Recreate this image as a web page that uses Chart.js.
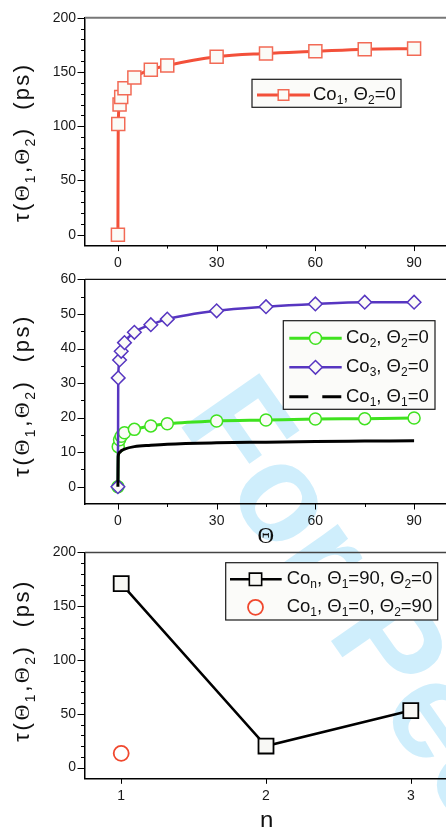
<!DOCTYPE html>
<html><head><meta charset="utf-8">
<title>tau vs Theta</title>
<script src="https://cdn.jsdelivr.net/npm/chart.js@4.4.1/dist/chart.umd.min.js"></script>
<style>
html,body{margin:0;padding:0;background:#fff;}
body{width:446px;height:827px;overflow:hidden;position:relative;}
#wm{position:absolute;left:271.7px;top:353px;transform-origin:0 0;transform:rotate(55deg);font:bold 138px "Liberation Sans",Arial,sans-serif;line-height:138px;color:#cfeefc;white-space:nowrap;}
canvas{position:absolute;left:0;}
</style></head><body>
<div id="wm">For Peer Review</div>
<canvas id="c1" width="460" height="275" style="top:0px"></canvas>
<canvas id="c2" width="460" height="290" style="top:262px"></canvas>
<canvas id="c3" width="460" height="292" style="top:535px"></canvas>
<script>
// ---------- data ----------
const thetaDeg      = [0, 0.1, 0.5, 1, 2, 5, 10, 15, 30, 45, 60, 75, 90];
const tauCo1Th2     = [0, 102, 120, 127, 135, 145, 152, 156, 164, 167, 169, 171, 171.5];
const tauCo2Th2     = [0, 11.6, 13.6, 14.6, 15.6, 16.6, 17.6, 18.2, 19.0, 19.3, 19.6, 19.7, 19.9];
const tauCo3Th2     = [0, 31.5, 36.7, 39.2, 41.7, 44.7, 46.9, 48.5, 50.9, 52.1, 52.9, 53.4, 53.4];
const tauCo1Th1     = [0, 8.8, 9.9, 10.4, 10.9, 11.6, 12.0, 12.3, 12.7, 12.9, 13.1, 13.2, 13.3];
const chainN        = [1, 2, 3];
const tauConTh90    = [171, 20, 53];
const co1N          = [1];
const tauCo1Th2_90  = [13.2];

// tick labels
const thetaTickLabels = [0, 30, 60, 90];
const tauTickLabelsA  = [0, 50, 100, 150, 200];
const tauTickLabelsB  = [0, 10, 20, 30, 40, 50, 60];
const nTickLabels     = [1, 2, 3];

// legend / axis texts
const yTitle = 'τ(Θ_{1},Θ_{2})  (ps)';
const legend1 = ['Co_{1}, Θ_{2}=0'];
const legend2 = ['Co_{2}, Θ_{2}=0', 'Co_{3}, Θ_{2}=0', 'Co_{1}, Θ_{1}=0'];
const legend3 = ['Co_{n}, Θ_{1}=90, Θ_{2}=0', 'Co_{1}, Θ_{1}=0, Θ_{2}=90'];

// ---------- helpers ----------
const FONT = '"Liberation Sans", Arial, sans-serif';
const SERIF = '"Liberation Serif", "Times New Roman", serif';
Chart.defaults.font.family = FONT;

function pts(xs, ys){ return xs.map((x,i)=>({x:x, y:ys[i]})); }
function withMinor(major, sub){
  const out = [];
  for (let i=0;i<major.length;i++){
    out.push(major[i]);
    if (i<major.length-1){
      const d = (major[i+1]-major[i])/sub;
      for (let k=1;k<sub;k++) out.push(major[i]+k*d);
    }
  }
  return out;
}
function parseRich(str){
  const out=[]; const re=/_\{([^}]*)\}/g; let last=0,m;
  while((m=re.exec(str))){ if(m.index>last) out.push({t:str.slice(last,m.index),sub:false}); out.push({t:m[1],sub:true}); last=re.lastIndex; }
  if(last<str.length) out.push({t:str.slice(last),sub:false});
  return out;
}
function toChars(segs, thetaSerif){
  const out=[];
  segs.forEach(s=>{ for(const ch of s.t){ out.push({t:ch,sub:s.sub,serif: thetaSerif && ch==='Θ'}); } });
  return out;
}
function setF(ctx,c,f){ ctx.font = (c.sub?f.sub:f.base)+'px '+(c.serif?SERIF:FONT); }
function charsWidth(ctx, chars, f){
  let w=0; chars.forEach(c=>{ setF(ctx,c,f); w+=ctx.measureText(c.t).width; }); return w;
}
function drawChars(ctx, chars, x, y, f, sp){
  let cx=x;
  chars.forEach(c=>{ setF(ctx,c,f); ctx.fillText(c.t, cx, y+(c.sub?f.dy:0)); cx+=ctx.measureText(c.t).width+sp; });
}
function drawMarker(ctx, m, x, y){
  ctx.save();
  ctx.beginPath();
  const r=m.radius;
  if(m.style==='rect'){ const s=Math.SQRT1_2*r; ctx.rect(x-s,y-s,2*s,2*s); }
  else if(m.style==='rectRot'){ ctx.moveTo(x-r,y); ctx.lineTo(x,y-r); ctx.lineTo(x+r,y); ctx.lineTo(x,y+r); ctx.closePath(); }
  else { ctx.arc(x,y,r,0,Math.PI*2); }
  ctx.fillStyle=m.fill; ctx.fill();
  ctx.lineWidth=m.bw; ctx.strokeStyle=m.border; ctx.stroke();
  ctx.restore();
}

function makeDeco(cfg){
  return {
    id:'deco',
    afterDraw(chart){
      const ctx=chart.ctx, a=chart.chartArea, xs=chart.scales.x, ys=chart.scales.y;
      ctx.save();
      ctx.strokeStyle=cfg.frameColor; ctx.lineWidth=cfg.frameWidth;
      ctx.beginPath(); ctx.moveTo(a.left, a.top); ctx.lineTo(a.right+20, a.top); ctx.stroke();
      ctx.strokeStyle='#000'; ctx.lineWidth=1;
      ys.ticks.forEach(t=>{
        if(t.value<=ys.min+1e-9) return;
        const p=Math.round(ys.getPixelForValue(t.value))+0.5;
        const len=cfg.yMajor.includes(t.value)?7.5:4;
        ctx.beginPath(); ctx.moveTo(a.left-len,p); ctx.lineTo(a.left,p); ctx.stroke();
      });
      xs.ticks.forEach(t=>{
        const p=Math.round(xs.getPixelForValue(t.value))+0.5;
        const len=cfg.xMajor.includes(t.value)?5.5:3;
        ctx.beginPath(); ctx.moveTo(p,a.bottom); ctx.lineTo(p,a.bottom+len); ctx.stroke();
      });
      const tf={base:22,sub:14,dy:6};
      const chars=toChars(parseRich(yTitle), true);
      const w=charsWidth(ctx,chars,tf);
      const sp=(cfg.yTitle.len-w)/(chars.length-1);
      ctx.save();
      ctx.translate(cfg.yTitle.x, cfg.yTitle.cy+cfg.yTitle.len/2);
      ctx.rotate(-Math.PI/2);
      ctx.fillStyle='#111'; ctx.textBaseline='alphabetic'; ctx.textAlign='left';
      drawChars(ctx,chars,0,0,tf,sp);
      ctx.restore();
      if(cfg.xTitle){
        ctx.fillStyle='#111'; ctx.textAlign='center'; ctx.textBaseline='middle';
        ctx.font=cfg.xTitle.size+'px '+(cfg.xTitle.serif?SERIF:FONT);
        ctx.fillText(cfg.xTitle.text, cfg.xTitle.x, cfg.xTitle.y);
      }
      const L=cfg.legend;
      ctx.fillStyle='#fbfbf9'; ctx.fillRect(L.box[0],L.box[1],L.box[2],L.box[3]);
      ctx.strokeStyle='#1a1a1a'; ctx.lineWidth=1.2; ctx.strokeRect(L.box[0],L.box[1],L.box[2],L.box[3]);
      const lf={base:18.5,sub:12,dy:5.5};
      L.rows.forEach(r=>{
        if(r.line){
          ctx.save(); ctx.strokeStyle=r.line.color; ctx.lineWidth=r.line.width; ctx.setLineDash(r.line.dash||[]);
          ctx.beginPath(); ctx.moveTo(L.lx0,r.y); ctx.lineTo(L.lx1,r.y); ctx.stroke(); ctx.restore();
        }
        if(r.marker) drawMarker(ctx,r.marker,L.mx,r.y);
        ctx.fillStyle='#111'; ctx.textAlign='left'; ctx.textBaseline='middle';
        drawChars(ctx,toChars(parseRich(r.text),false),L.tx,r.y,lf,0);
      });
      ctx.restore();
    }
  };
}

function axisX(min,max,ticksArr,labels,height){
  return {
    type:'linear', bounds:'data', min:min, max:max,
    afterBuildTicks:s=>{ s.ticks=ticksArr.map(v=>({value:v})); },
    afterFit:s=>{ s.height=height; },
    grid:{display:false, drawTicks:false},
    border:{display:true, color:'#000', width:1.5},
    ticks:{autoSkip:false, maxRotation:0, padding:9, color:'#1a1a1a', font:{size:14},
      callback:v=>labels.includes(v)?String(v):''}
  };
}
function axisY(min,max,ticksArr,labels){
  return {
    type:'linear', bounds:'data', min:min, max:max,
    afterBuildTicks:s=>{ s.ticks=ticksArr.map(v=>({value:v})); },
    afterFit:s=>{ s.width=85; },
    grid:{display:false, drawTicks:false},
    border:{display:true, color:'#000', width:1.5},
    ticks:{autoSkip:false, padding:9, color:'#1a1a1a', font:{size:14},
      callback:v=>labels.includes(v)?String(v):''}
  };
}
const baseOpts = {responsive:false, animation:false, events:[], plugins:{legend:{display:false}, tooltip:{enabled:false}}};

// ---------- panel 1 ----------
const thetaTicks = withMinor(thetaTickLabels, 2);
new Chart(document.getElementById('c1'), {
  type:'line',
  data:{datasets:[{
    data:pts(thetaDeg,tauCo1Th2), borderColor:'#f3503a', borderWidth:3,
    pointStyle:'rect', pointRadius:9.2, pointBorderColor:'#f26a55', pointBackgroundColor:'#fbfbf7', pointBorderWidth:1.5,
    cubicInterpolationMode:'monotone', fill:false
  }]},
  options:Object.assign({}, baseOpts, {
    layout:{padding:{top:17.7,right:13,left:0,bottom:0}},
    scales:{ x:axisX(-10,100,thetaTicks,thetaTickLabels,29.4), y:axisY(-10,200,withMinor(tauTickLabelsA,5),tauTickLabelsA) }
  }),
  plugins:[makeDeco({
    frameColor:'#777', frameWidth:2, xMajor:thetaTickLabels, yMajor:tauTickLabelsA,
    yTitle:{x:28.5, cy:143.5, len:157},
    legend:{box:[252,79.3,149,28], lx0:257, lx1:310, mx:283.5, tx:313,
      rows:[{y:95, text:legend1[0], line:{color:'#f3503a',width:3}, marker:{style:'rect',radius:7.5,fill:'#fbfbf7',border:'#f26a55',bw:1.5}}]}
  })]
});

// ---------- panel 2 ----------
new Chart(document.getElementById('c2'), {
  type:'line',
  data:{datasets:[
    {data:pts(thetaDeg,tauCo1Th1), borderColor:'#000', borderWidth:3, pointRadius:0, cubicInterpolationMode:'monotone', fill:false, order:0},
    {data:pts(thetaDeg,tauCo3Th2), borderColor:'#5736c1', borderWidth:2.5, pointStyle:'rectRot', pointRadius:6.8,
      pointBorderColor:'#5736c1', pointBackgroundColor:'#fbfbf7', pointBorderWidth:1.5, cubicInterpolationMode:'monotone', fill:false, order:1},
    {data:pts(thetaDeg,tauCo2Th2), borderColor:'#3fe21f', borderWidth:3, pointStyle:'circle', pointRadius:6,
      pointBorderColor:'#3fe21f', pointBackgroundColor:'#fbfbf7', pointBorderWidth:1.5, cubicInterpolationMode:'monotone', fill:false, order:2}
  ]},
  options:Object.assign({}, baseOpts, {
    layout:{padding:{top:14.7,right:13,left:0,bottom:0}},
    scales:{ x:axisX(-10,100,thetaTicks,thetaTickLabels,48), y:axisY(-5,60,withMinor(tauTickLabelsB,2),tauTickLabelsB) }
  }),
  plugins:[makeDeco({
    frameColor:'#111', frameWidth:1.2, xMajor:thetaTickLabels, yMajor:tauTickLabelsB,
    yTitle:{x:28.5, cy:134.7, len:160},
    xTitle:{text:'Θ', serif:true, size:23, x:265.7, y:274.7},
    legend:{box:[283.3,58.7,151.7,88.6], lx0:289.3, lx1:341.7, mx:315.5, tx:346,
      rows:[
        {y:76.3, text:legend2[0], line:{color:'#3fe21f',width:3}, marker:{style:'circle',radius:6,fill:'#fbfbf7',border:'#3fe21f',bw:1.5}},
        {y:105.3, text:legend2[1], line:{color:'#5736c1',width:2.5}, marker:{style:'rectRot',radius:6.8,fill:'#fbfbf7',border:'#5736c1',bw:1.5}},
        {y:134.7, text:legend2[2], line:{color:'#000',width:3,dash:[19,14]}}
      ]}
  })]
});

// ---------- panel 3 ----------
new Chart(document.getElementById('c3'), {
  type:'line',
  data:{datasets:[
    {data:pts(chainN,tauConTh90), borderColor:'#000', borderWidth:2.5, tension:0, pointStyle:'rect', pointRadius:10.6,
      pointBorderColor:'#000', pointBackgroundColor:'#f8f8f5', pointBorderWidth:1.8, fill:false, order:0},
    {data:pts(co1N,tauCo1Th2_90), showLine:false, pointStyle:'circle', pointRadius:7.5,
      pointBorderColor:'#f0482e', pointBackgroundColor:'rgba(255,255,255,0)', pointBorderWidth:1.8, order:1}
  ]},
  options:Object.assign({}, baseOpts, {
    layout:{padding:{top:15,right:13,left:0,bottom:0}},
    scales:{ x:axisX(0.75,3.25,nTickLabels,nTickLabels,48.7), y:axisY(-10,200,withMinor(tauTickLabelsA,5),tauTickLabelsA) }
  }),
  plugins:[makeDeco({
    frameColor:'#444', frameWidth:1.5, xMajor:nTickLabels, yMajor:tauTickLabelsA,
    yTitle:{x:28.5, cy:126.7, len:160},
    xTitle:{text:'n', serif:false, size:24, x:266.7, y:286.7},
    legend:{box:[225.7,27.7,212,57.3], lx0:230, lx1:281.7, mx:255.5, tx:286.7,
      rows:[
        {y:44.3, text:legend3[0], line:{color:'#000',width:2.5}, marker:{style:'rect',radius:8.7,fill:'#f8f8f5',border:'#000',bw:1.6}},
        {y:72.3, text:legend3[1], marker:{style:'circle',radius:7.5,fill:'rgba(255,255,255,0)',border:'#f0482e',bw:1.8}}
      ]}
  })]
});
</script>
</body></html>
